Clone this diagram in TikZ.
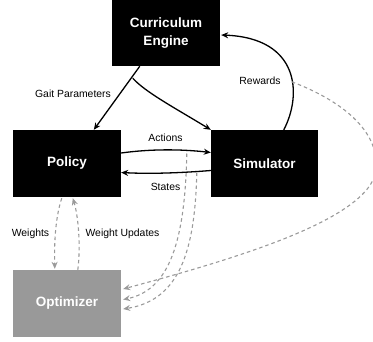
\documentclass[tikz,border=0pt]{standalone}
\usepackage{fontspec}
\setmainfont{Liberation Sans}
\usetikzlibrary{arrows.meta,calc}
\definecolor{optgray}{HTML}{999999}
\definecolor{dashgray}{HTML}{9A9A9A}
\tikzset{
  box/.style={draw=none,fill=black,text=white,font=\fontsize{13.5}{16}\selectfont\bfseries,align=center,inner sep=0pt},
  lbl/.style={font=\fontsize{10.4}{12}\selectfont,text=black,inner sep=0pt},
  arr/.style={line width=1.3pt,-{Stealth[length=7pt,width=6pt]}},
  darr/.style={line width=1.1pt,dashgray,dash pattern=on 3.5pt off 3pt,-{Stealth[length=7pt,width=6pt]}}
}
\begin{document}
\begin{tikzpicture}[x=1pt,y=-1pt]
\useasboundingbox (0,0) rectangle (373,341);
\clip (0,0) rectangle (373,341);
\node[box,minimum width=108pt,minimum height=66pt] (ce) at (166,33) {Curriculum\\[2pt]Engine};
\node[box,minimum width=108pt,minimum height=67pt] (pol) at (67,163.5) {Policy};
\node[box,minimum width=107pt,minimum height=67pt] (sim) at (264.5,163.5) {Simulator};
\node[box,fill=optgray,minimum width=108pt,minimum height=67pt] (opt) at (67,303.5) {Optimizer};

\node[lbl] (lgait) at (73,94) {Gait Parameters};
\node[lbl] (lrew) at (260,81) {Rewards};
\node[lbl] (lact) at (165.5,138) {Actions};
\node[lbl] (lsta) at (165.5,187) {States};
\node[lbl] (lw) at (30.5,234) {Weights};
\node[lbl] (lwu) at (122.5,234) {Weight Updates};

% black connectors
\draw[arr] ($(ce.south west)+(28,0)$) -- ($(pol.north west)+(81,0)$);
\draw[arr] ($(ce.south west)+(21,12)$) .. controls (145,92) and (175,108) .. (sim.north west);
\draw[arr] ($(sim.north west)+(73,0)$) .. controls (302,95) and (300,38) .. ($(ce.east)+(1,2)$);
\draw[arr] ($(pol.east)+(0,-10.5)$) .. controls (150,149) and (180,149) .. ($(sim.west)+(0,-11)$);
\draw[arr] ($(sim.west)+(0,7)$) .. controls (180,173) and (150,174) .. ($(pol.east)+(0,9)$);

% gray dashed connectors
\draw[darr] ($(pol.south west)+(49,1)$) .. controls (56,215) and (54,240) .. ($(opt.north west)+(42,-1)$);
\draw[darr] ($(opt.north west)+(65,0)$) .. controls (81,245) and (78,215) .. ($(pol.south west)+(60,1)$);
\draw[darr] ($(sim.west)+(-24,-10)$) .. controls (185,240) and (170,290) .. ($(opt.east)+(2,-4)$);
\draw[darr] ($(sim.west)+(-14,9)$) .. controls (195,250) and (180,300) .. ($(opt.east)+(2,5.5)$);
\draw[darr] ($(sim.north west)+(81,-48)$) .. controls (340,100) and (380,130) .. (376,170)
  .. controls (370,220) and (230,260) .. ($(opt.east)+(2,-14.5)$);
\end{tikzpicture}
\end{document}
